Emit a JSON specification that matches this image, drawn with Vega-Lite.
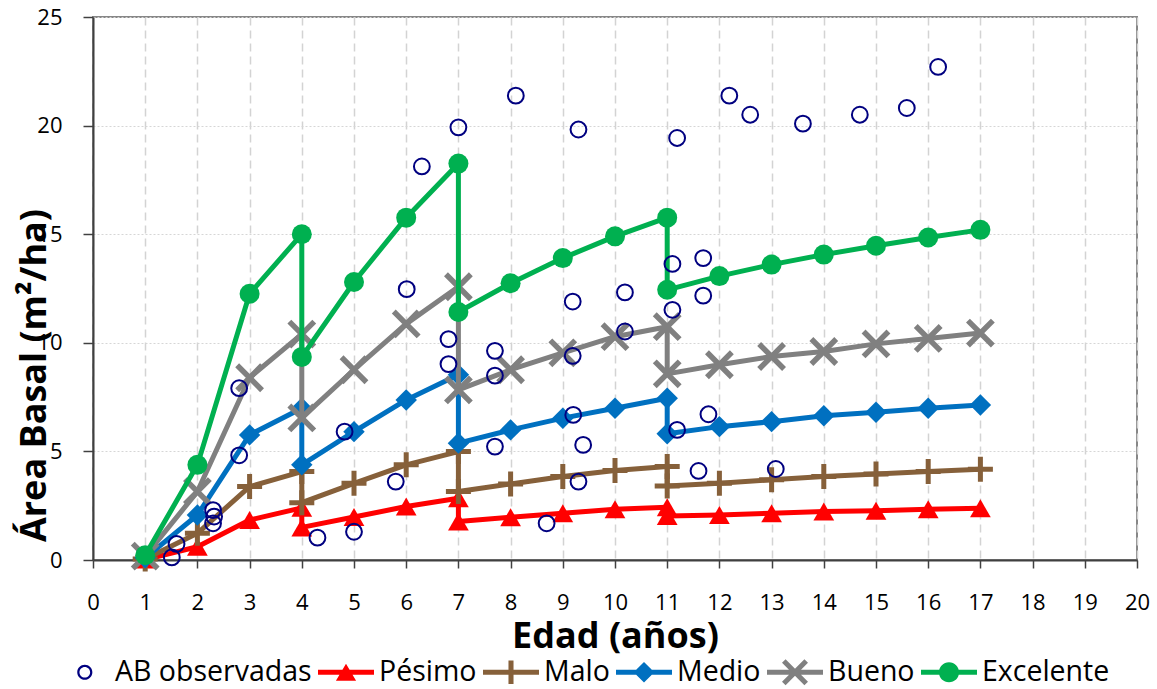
{
  "$schema": "https://vega.github.io/schema/vega-lite/v6.json",
  "width": 1044,
  "height": 543,
  "autosize": {"type": "none"},
  "padding": {"left": 93, "top": 17, "right": 20, "bottom": 129},
  "background": "white",
  "config": {
    "font": "Open Sans",
    "view": {"stroke": "#878787", "strokeWidth": 2},
    "axis": {
      "labelFont": "Open Sans",
      "labelFontSize": 22,
      "labelColor": "#000000",
      "titleFont": "Open Sans",
      "titleFontWeight": "bold",
      "titleFontSize": 36,
      "titleColor": "#000000",
      "domainColor": "#404040",
      "domainWidth": 2,
      "tickColor": "#404040",
      "tickWidth": 1.5,
      "labelFlush": false,
      "labelOverlap": false
    }
  },
  "data": {
    "values": [
      {"s": "Pésimo", "i": 1, "x": 1, "y": 0.02},
      {"s": "Pésimo", "i": 2, "x": 2, "y": 0.61},
      {"s": "Pésimo", "i": 3, "x": 3, "y": 1.84},
      {"s": "Pésimo", "i": 4, "x": 4, "y": 2.4},
      {"s": "Pésimo", "i": 5, "x": 4, "y": 1.5},
      {"s": "Pésimo", "i": 6, "x": 5, "y": 1.98},
      {"s": "Pésimo", "i": 7, "x": 6, "y": 2.46},
      {"s": "Pésimo", "i": 8, "x": 7, "y": 2.84},
      {"s": "Pésimo", "i": 9, "x": 7, "y": 1.77},
      {"s": "Pésimo", "i": 10, "x": 8, "y": 1.97},
      {"s": "Pésimo", "i": 11, "x": 9, "y": 2.15},
      {"s": "Pésimo", "i": 12, "x": 10, "y": 2.34},
      {"s": "Pésimo", "i": 13, "x": 11, "y": 2.43},
      {"s": "Pésimo", "i": 14, "x": 11, "y": 2.03},
      {"s": "Pésimo", "i": 15, "x": 12, "y": 2.07},
      {"s": "Pésimo", "i": 16, "x": 13, "y": 2.15},
      {"s": "Pésimo", "i": 17, "x": 14, "y": 2.23},
      {"s": "Pésimo", "i": 18, "x": 15, "y": 2.27},
      {"s": "Pésimo", "i": 19, "x": 16, "y": 2.34},
      {"s": "Pésimo", "i": 20, "x": 17, "y": 2.38},
      {"s": "Malo", "i": 1, "x": 1, "y": 0.05},
      {"s": "Malo", "i": 2, "x": 2, "y": 1.23},
      {"s": "Malo", "i": 3, "x": 3, "y": 3.38},
      {"s": "Malo", "i": 4, "x": 4, "y": 4.07},
      {"s": "Malo", "i": 5, "x": 4, "y": 2.64},
      {"s": "Malo", "i": 6, "x": 5, "y": 3.53},
      {"s": "Malo", "i": 7, "x": 6, "y": 4.38},
      {"s": "Malo", "i": 8, "x": 7, "y": 4.99},
      {"s": "Malo", "i": 9, "x": 7, "y": 3.15},
      {"s": "Malo", "i": 10, "x": 8, "y": 3.5},
      {"s": "Malo", "i": 11, "x": 9, "y": 3.84},
      {"s": "Malo", "i": 12, "x": 10, "y": 4.12},
      {"s": "Malo", "i": 13, "x": 11, "y": 4.3},
      {"s": "Malo", "i": 14, "x": 11, "y": 3.41},
      {"s": "Malo", "i": 15, "x": 12, "y": 3.53},
      {"s": "Malo", "i": 16, "x": 13, "y": 3.69},
      {"s": "Malo", "i": 17, "x": 14, "y": 3.84},
      {"s": "Malo", "i": 18, "x": 15, "y": 3.96},
      {"s": "Malo", "i": 19, "x": 16, "y": 4.07},
      {"s": "Malo", "i": 20, "x": 17, "y": 4.18},
      {"s": "Medio", "i": 1, "x": 1, "y": 0.1},
      {"s": "Medio", "i": 2, "x": 2, "y": 2.07},
      {"s": "Medio", "i": 3, "x": 3, "y": 5.76},
      {"s": "Medio", "i": 4, "x": 4, "y": 6.99},
      {"s": "Medio", "i": 5, "x": 4, "y": 4.38},
      {"s": "Medio", "i": 6, "x": 5, "y": 5.91},
      {"s": "Medio", "i": 7, "x": 6, "y": 7.37},
      {"s": "Medio", "i": 8, "x": 7, "y": 8.53},
      {"s": "Medio", "i": 9, "x": 7, "y": 5.38},
      {"s": "Medio", "i": 10, "x": 8, "y": 5.99},
      {"s": "Medio", "i": 11, "x": 9, "y": 6.53},
      {"s": "Medio", "i": 12, "x": 10, "y": 6.99},
      {"s": "Medio", "i": 13, "x": 11, "y": 7.45},
      {"s": "Medio", "i": 14, "x": 11, "y": 5.81},
      {"s": "Medio", "i": 15, "x": 12, "y": 6.14},
      {"s": "Medio", "i": 16, "x": 13, "y": 6.37},
      {"s": "Medio", "i": 17, "x": 14, "y": 6.64},
      {"s": "Medio", "i": 18, "x": 15, "y": 6.8},
      {"s": "Medio", "i": 19, "x": 16, "y": 6.99},
      {"s": "Medio", "i": 20, "x": 17, "y": 7.14},
      {"s": "Bueno", "i": 1, "x": 1, "y": 0.18},
      {"s": "Bueno", "i": 2, "x": 2, "y": 3.15},
      {"s": "Bueno", "i": 3, "x": 3, "y": 8.39},
      {"s": "Bueno", "i": 4, "x": 4, "y": 10.4},
      {"s": "Bueno", "i": 5, "x": 4, "y": 6.54},
      {"s": "Bueno", "i": 6, "x": 5, "y": 8.76},
      {"s": "Bueno", "i": 7, "x": 6, "y": 10.87},
      {"s": "Bueno", "i": 8, "x": 7, "y": 12.58},
      {"s": "Bueno", "i": 9, "x": 7, "y": 7.83},
      {"s": "Bueno", "i": 10, "x": 8, "y": 8.76},
      {"s": "Bueno", "i": 11, "x": 9, "y": 9.54},
      {"s": "Bueno", "i": 12, "x": 10, "y": 10.28},
      {"s": "Bueno", "i": 13, "x": 11, "y": 10.74},
      {"s": "Bueno", "i": 14, "x": 11, "y": 8.57},
      {"s": "Bueno", "i": 15, "x": 12, "y": 8.99},
      {"s": "Bueno", "i": 16, "x": 13, "y": 9.37},
      {"s": "Bueno", "i": 17, "x": 14, "y": 9.6},
      {"s": "Bueno", "i": 18, "x": 15, "y": 9.95},
      {"s": "Bueno", "i": 19, "x": 16, "y": 10.2},
      {"s": "Bueno", "i": 20, "x": 17, "y": 10.45},
      {"s": "Excelente", "i": 1, "x": 1, "y": 0.22},
      {"s": "Excelente", "i": 2, "x": 2, "y": 4.38},
      {"s": "Excelente", "i": 3, "x": 3, "y": 12.26},
      {"s": "Excelente", "i": 4, "x": 4, "y": 15.0},
      {"s": "Excelente", "i": 5, "x": 4, "y": 9.35},
      {"s": "Excelente", "i": 6, "x": 5, "y": 12.8},
      {"s": "Excelente", "i": 7, "x": 6, "y": 15.76},
      {"s": "Excelente", "i": 8, "x": 7, "y": 18.25},
      {"s": "Excelente", "i": 9, "x": 7, "y": 11.42},
      {"s": "Excelente", "i": 10, "x": 8, "y": 12.74},
      {"s": "Excelente", "i": 11, "x": 9, "y": 13.9},
      {"s": "Excelente", "i": 12, "x": 10, "y": 14.9},
      {"s": "Excelente", "i": 13, "x": 11, "y": 15.76},
      {"s": "Excelente", "i": 14, "x": 11, "y": 12.44},
      {"s": "Excelente", "i": 15, "x": 12, "y": 13.07},
      {"s": "Excelente", "i": 16, "x": 13, "y": 13.6},
      {"s": "Excelente", "i": 17, "x": 14, "y": 14.06},
      {"s": "Excelente", "i": 18, "x": 15, "y": 14.47},
      {"s": "Excelente", "i": 19, "x": 16, "y": 14.85},
      {"s": "Excelente", "i": 20, "x": 17, "y": 15.2},
      {"s": "AB observadas", "i": 0, "x": 1.51, "y": 0.12},
      {"s": "AB observadas", "i": 0, "x": 1.6, "y": 0.74},
      {"s": "AB observadas", "i": 0, "x": 2.3, "y": 2.3},
      {"s": "AB observadas", "i": 0, "x": 2.32, "y": 2.0},
      {"s": "AB observadas", "i": 0, "x": 2.3, "y": 1.69},
      {"s": "AB observadas", "i": 0, "x": 2.8, "y": 4.82},
      {"s": "AB observadas", "i": 0, "x": 2.8, "y": 7.91},
      {"s": "AB observadas", "i": 0, "x": 4.3, "y": 1.03},
      {"s": "AB observadas", "i": 0, "x": 4.82, "y": 5.91},
      {"s": "AB observadas", "i": 0, "x": 5.0, "y": 1.3},
      {"s": "AB observadas", "i": 0, "x": 5.8, "y": 3.61},
      {"s": "AB observadas", "i": 0, "x": 6.01, "y": 12.47},
      {"s": "AB observadas", "i": 0, "x": 6.3, "y": 18.12},
      {"s": "AB observadas", "i": 0, "x": 6.81, "y": 10.17},
      {"s": "AB observadas", "i": 0, "x": 6.81, "y": 9.02},
      {"s": "AB observadas", "i": 0, "x": 7.0, "y": 19.92},
      {"s": "AB observadas", "i": 0, "x": 7.7, "y": 9.63},
      {"s": "AB observadas", "i": 0, "x": 7.7, "y": 8.49},
      {"s": "AB observadas", "i": 0, "x": 7.7, "y": 5.22},
      {"s": "AB observadas", "i": 0, "x": 8.1, "y": 21.38},
      {"s": "AB observadas", "i": 0, "x": 8.69, "y": 1.69},
      {"s": "AB observadas", "i": 0, "x": 9.19, "y": 11.9},
      {"s": "AB observadas", "i": 0, "x": 9.19, "y": 9.4},
      {"s": "AB observadas", "i": 0, "x": 9.2, "y": 6.68},
      {"s": "AB observadas", "i": 0, "x": 9.3, "y": 19.82},
      {"s": "AB observadas", "i": 0, "x": 9.3, "y": 3.61},
      {"s": "AB observadas", "i": 0, "x": 9.39, "y": 5.3},
      {"s": "AB observadas", "i": 0, "x": 10.19, "y": 12.32},
      {"s": "AB observadas", "i": 0, "x": 10.19, "y": 10.52},
      {"s": "AB observadas", "i": 0, "x": 11.1, "y": 13.63},
      {"s": "AB observadas", "i": 0, "x": 11.1, "y": 11.52},
      {"s": "AB observadas", "i": 0, "x": 11.19, "y": 19.43},
      {"s": "AB observadas", "i": 0, "x": 11.19, "y": 5.99},
      {"s": "AB observadas", "i": 0, "x": 11.6, "y": 4.1},
      {"s": "AB observadas", "i": 0, "x": 11.69, "y": 13.9},
      {"s": "AB observadas", "i": 0, "x": 11.69, "y": 12.17},
      {"s": "AB observadas", "i": 0, "x": 11.79, "y": 6.71},
      {"s": "AB observadas", "i": 0, "x": 12.19, "y": 21.38},
      {"s": "AB observadas", "i": 0, "x": 12.59, "y": 20.5},
      {"s": "AB observadas", "i": 0, "x": 13.08, "y": 4.19},
      {"s": "AB observadas", "i": 0, "x": 13.6, "y": 20.09},
      {"s": "AB observadas", "i": 0, "x": 14.69, "y": 20.5},
      {"s": "AB observadas", "i": 0, "x": 15.59, "y": 20.81},
      {"s": "AB observadas", "i": 0, "x": 16.19, "y": 22.7}
    ]
  },
  "encoding": {
    "x": {
      "field": "x", "type": "quantitative",
      "scale": {"domain": [0, 20], "nice": false, "zero": false},
      "axis": {
        "values": [0,1,2,3,4,5,6,7,8,9,10,11,12,13,14,15,16,17,18,19,20],
        "tickSize": 8,
        "labelPadding": 24,
        "grid": true,
        "gridColor": "#d3d3d3",
        "gridDash": [8, 5],
        "gridWidth": 1.5,
        "title": "Edad (años)",
        "titleY": 87,
        "titleBaseline": "alphabetic"
      }
    },
    "y": {
      "field": "y", "type": "quantitative",
      "scale": {"domain": [0, 25], "nice": false},
      "axis": {
        "values": [0, 5, 10, 15, 20, 25],
        "tickSize": 10,
        "labelPadding": 21,
        "grid": true,
        "gridColor": "#d6d6d6",
        "gridDash": [2, 2],
        "gridWidth": 1,
        "title": "Área Basal (m²/ha)",
        "titleX": -48,
        "titleY": 358,
        "titleAngle": -90,
        "titleAlign": "center",
        "titleBaseline": "alphabetic"
      }
    }
  },
  "layer": [
    {
      "transform": [{"filter": "datum.s === 'Pésimo'"}],
      "mark": {"type": "line", "color": "#FF0000", "strokeWidth": 5, "strokeJoin": "round", "strokeCap": "round"},
      "encoding": {"order": {"field": "i", "type": "quantitative"}}
    },
    {
      "transform": [{"filter": "datum.s === 'Pésimo'"}],
      "mark": {"type": "point", "shape": "triangle-up", "filled": true, "color": "#FF0000", "size": 430, "opacity": 1}
    },
    {
      "transform": [{"filter": "datum.s === 'Malo'"}],
      "mark": {"type": "line", "color": "#86603A", "strokeWidth": 5, "strokeJoin": "round", "strokeCap": "round"},
      "encoding": {"order": {"field": "i", "type": "quantitative"}}
    },
    {
      "transform": [{"filter": "datum.s === 'Malo'"}],
      "mark": {"type": "point", "shape": "M-1,0H1M0,-1V1", "filled": false, "color": "#86603A", "strokeWidth": 5, "size": 625, "opacity": 1}
    },
    {
      "transform": [{"filter": "datum.s === 'Medio'"}],
      "mark": {"type": "line", "color": "#0070C0", "strokeWidth": 5, "strokeJoin": "round", "strokeCap": "round"},
      "encoding": {"order": {"field": "i", "type": "quantitative"}}
    },
    {
      "transform": [{"filter": "datum.s === 'Medio'"}],
      "mark": {"type": "point", "shape": "diamond", "filled": true, "color": "#0070C0", "size": 460, "opacity": 1}
    },
    {
      "transform": [{"filter": "datum.s === 'Bueno'"}],
      "mark": {"type": "line", "color": "#808080", "strokeWidth": 5, "strokeJoin": "round", "strokeCap": "round"},
      "encoding": {"order": {"field": "i", "type": "quantitative"}}
    },
    {
      "transform": [{"filter": "datum.s === 'Bueno'"}],
      "mark": {"type": "point", "shape": "M-1,-1L1,1M-1,1L1,-1", "filled": false, "color": "#808080", "strokeWidth": 5.5, "size": 620, "opacity": 1}
    },
    {
      "transform": [{"filter": "datum.s === 'Excelente'"}],
      "mark": {"type": "line", "color": "#00B050", "strokeWidth": 5, "strokeJoin": "round", "strokeCap": "round"},
      "encoding": {"order": {"field": "i", "type": "quantitative"}}
    },
    {
      "transform": [{"filter": "datum.s === 'Excelente'"}],
      "mark": {"type": "point", "shape": "circle", "filled": true, "color": "#00B050", "size": 400, "opacity": 1}
    },
    {
      "transform": [{"filter": "datum.s === 'AB observadas'"}],
      "mark": {"type": "point", "shape": "circle", "filled": false, "color": "#000080", "strokeWidth": 2, "size": 250, "opacity": 1}
    },
    {
      "mark": {"type": "point", "filled": true, "opacity": 0},
      "encoding": {
        "color": {
          "field": "s", "type": "nominal",
          "scale": {
            "domain": ["AB observadas", "Pésimo", "Malo", "Medio", "Bueno", "Excelente"],
            "range": ["#000080", "#FF0000", "#86603A", "#0070C0", "#808080", "#00B050"]
          },
          "legend": {
            "orient": "none",
            "legendX": -39,
            "legendY": 627,
            "direction": "horizontal",
            "title": null,
            "symbolSize": 3136,
            "symbolStrokeWidth": 0,
            "symbolOpacity": 1,
            "labelFont": "Open Sans",
            "labelFontSize": 28.5,
            "labelColor": "#000000",
            "labelOffset": 5,
            "labelLimit": 400,
            "columnPadding": 6
          }
        },
        "shape": {
          "field": "s", "type": "nominal",
          "scale": {
            "domain": ["AB observadas", "Pésimo", "Malo", "Medio", "Bueno", "Excelente"],
            "range": [
              "M0.37,0A0.27,0.27 0 1,1 -0.17,0A0.27,0.27 0 1,1 0.37,0Z M0.29,0A0.19,0.19 0 1,0 -0.09,0A0.19,0.19 0 1,0 0.29,0Z",
              "M-1,-0.09H1V0.09H-1Z M0,-0.3L0.36,0.3L-0.36,0.3Z",
              "M-1,-0.09H1V0.09H-1Z M-0.09,-0.42H0.09V0.42H-0.09Z",
              "M-1,-0.09H1V0.09H-1Z M0,-0.37L0.37,0L0,0.37L-0.37,0Z",
              "M-1,-0.09H1V0.09H-1Z M-0.336,-0.464L0.464,0.336L0.336,0.464L-0.464,-0.336Z M-0.464,0.336L0.336,-0.464L0.464,-0.336L-0.336,0.464Z",
              "M-1,-0.09H1V0.09H-1Z M0.36,0A0.36,0.36 0 1,1 -0.36,0A0.36,0.36 0 1,1 0.36,0Z"
            ]
          },
          "legend": {
            "orient": "none",
            "legendX": -39,
            "legendY": 627,
            "direction": "horizontal",
            "title": null,
            "symbolSize": 3136,
            "symbolStrokeWidth": 0,
            "symbolOpacity": 1,
            "labelFont": "Open Sans",
            "labelFontSize": 28.5,
            "labelColor": "#000000",
            "labelOffset": 5,
            "labelLimit": 400,
            "columnPadding": 6
          }
        }
      }
    }
  ]
}
